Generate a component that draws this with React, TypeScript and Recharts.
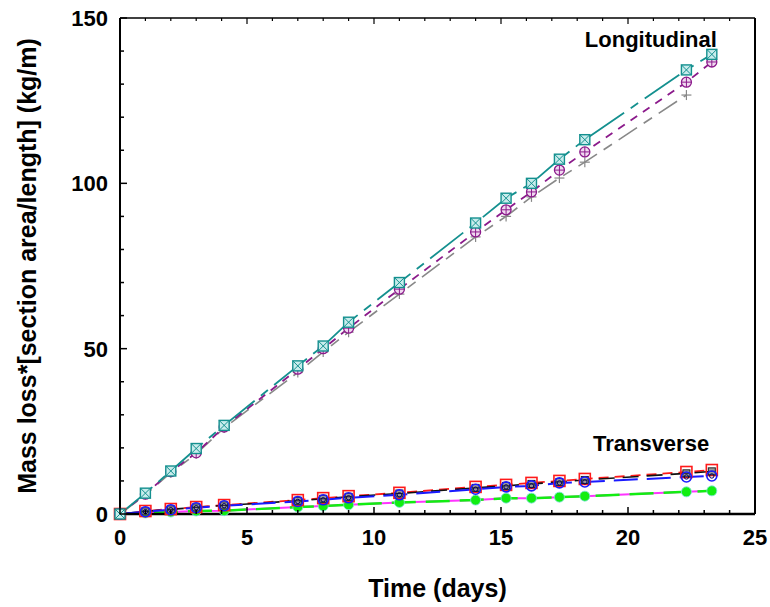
import React from 'react';
import { LineChart, Line, XAxis, YAxis, ReferenceDot, Label } from 'recharts';

// time (days) of each measurement
const days = [0, 1, 2, 3, 4.1, 7, 8, 9, 11, 14, 15.2, 16.2, 17.3, 18.3, 22.3, 23.3];

// longitudinal specimens
const longA = [0, 6.3, 13, 19.8, 26.8, 44.8, 50.8, 58, 70, 88, 95.5, 100, 107.3, 113.2, 134.3, 139];
const longB = [0, 6, 12.8, 18.5, 26.3, 43.8, 50, 56.2, 68, 85.3, 92, 97.4, 104, 109.5, 130.6, 136.7];
const longC = [0, 5.8, 12.5, 18.2, 26, 42.8, 49, 55, 66.5, 83.8, 90, 95.9, 101.6, 106.4, 126.7, null];

// transverse specimens
const transA = [0, 0.9, 1.5, 2.1, 2.7, 4.2, 4.8, 5.4, 6.4, 8.2, 8.8, 9.4, 10, 10.6, 12.7, 13.3];
const transB = [0, 0.8, 1.4, 2.0, 2.6, 4.0, 4.6, 5.2, 6.2, 7.9, 8.5, 9.1, 9.7, 10.3, 12.3, 12.9];
const transC = [0, 0.7, 1.3, 1.9, 2.5, 3.8, 4.3, 4.9, 5.8, 7.5, 8.2, 8.5, 9.4, 9.7, 11.2, 11.5];
const transD = [0, 0.3, 0.6, 0.9, 1.0, 2.1, 2.4, 2.8, 3.5, 4.2, 4.8, 4.8, 5.1, 5.4, 6.7, 7.0];

const xTicks = Array.from({ length: 26 }, (_, i) => i);
const yTicks = Array.from({ length: 16 }, (_, i) => i * 10);

const data = days.map((d, i) => ({
  day: d,
  longA: longA[i],
  longB: longB[i],
  longC: longC[i],
  transA: transA[i],
  transB: transB[i],
  transC: transC[i],
  transD: transD[i],
}));

const FONT = '"Liberation Sans", Arial, sans-serif';
const TEAL = '#14908f';
const PURPLE = '#8b1a8b';

const BottomTick = ({ x, y, payload }: any) => {
  const major = payload.value % 5 === 0;
  return (
    <g>
      <line x1={x} x2={x} y1={y} y2={y - (major ? 7 : 4)} stroke="#000" strokeWidth={1.5} />
      {major && (
        <text x={x} y={y + 31} textAnchor="middle" fontFamily={FONT} fontWeight="bold" fontSize={22} fill="#000">
          {payload.value}
        </text>
      )}
    </g>
  );
};

const TopTick = ({ x, y, payload }: any) => {
  const major = payload.value % 5 === 0;
  return <line x1={x} x2={x} y1={y} y2={y + (major ? 6 : 3)} stroke="#000" strokeWidth={1.2} />;
};

const LeftTick = ({ x, y, payload }: any) => {
  const major = payload.value % 50 === 0;
  return (
    <g>
      <line x1={x} x2={x + (major ? 7 : 4)} y1={y} y2={y} stroke="#000" strokeWidth={1.5} />
      {major && (
        <text x={x - 12} y={y} dy="0.36em" textAnchor="end" fontFamily={FONT} fontWeight="bold" fontSize={22} fill="#000">
          {payload.value}
        </text>
      )}
    </g>
  );
};

const RightTick = ({ x, y, payload }: any) => {
  const major = payload.value % 50 === 0;
  return <line x1={x} x2={x - (major ? 6 : 3)} y1={y} y2={y} stroke="#000" strokeWidth={1.2} />;
};

const SquareX = (p: any) => {
  const { cx, cy, index } = p;
  if (cy == null) return <g key={`sx-${index}`} />;
  const s = 5;
  return (
    <g key={`sx-${index}`}>
      <rect x={cx - s} y={cy - s} width={2 * s} height={2 * s} fill="#c8ecec" stroke={TEAL} strokeWidth={1.4} />
      <line x1={cx - s} y1={cy - s} x2={cx + s} y2={cy + s} stroke={TEAL} strokeWidth={1} />
      <line x1={cx - s} y1={cy + s} x2={cx + s} y2={cy - s} stroke={TEAL} strokeWidth={1} />
    </g>
  );
};

const CirclePlus = (p: any) => {
  const { cx, cy, index } = p;
  if (cy == null) return <g key={`cp-${index}`} />;
  const r = 5;
  return (
    <g key={`cp-${index}`}>
      <circle cx={cx} cy={cy} r={r} fill="#f0d8f0" stroke={PURPLE} strokeWidth={1.3} />
      <line x1={cx - r} y1={cy} x2={cx + r} y2={cy} stroke={PURPLE} strokeWidth={1} />
      <line x1={cx} y1={cy - r} x2={cx} y2={cy + r} stroke={PURPLE} strokeWidth={1} />
    </g>
  );
};

const Plus = (p: any) => {
  const { cx, cy, index } = p;
  if (cy == null) return <g key={`pl-${index}`} />;
  const r = 5;
  return (
    <g key={`pl-${index}`}>
      <line x1={cx - r} y1={cy} x2={cx + r} y2={cy} stroke="#888" strokeWidth={1.2} />
      <line x1={cx} y1={cy - r} x2={cx} y2={cy + r} stroke="#888" strokeWidth={1.2} />
    </g>
  );
};

const RedSquare = (p: any) => {
  const { cx, cy, index } = p;
  if (cy == null) return <g key={`rs-${index}`} />;
  const s = 5.5;
  return (
    <rect key={`rs-${index}`} x={cx - s} y={cy - s} width={2 * s} height={2 * s} fill="none" stroke="#ff1a1a" strokeWidth={1.6} />
  );
};

const BlackSquare = (p: any) => {
  const { cx, cy, index } = p;
  if (cy == null) return <g key={`bs-${index}`} />;
  const s = 3.5;
  return (
    <g key={`bs-${index}`}>
      <rect x={cx - s} y={cy - s} width={2 * s} height={2 * s} fill="#999" stroke="#222" strokeWidth={1} />
      <line x1={cx - s} y1={cy} x2={cx + s} y2={cy} stroke="#222" strokeWidth={1} />
    </g>
  );
};

const BlueCircle = (p: any) => {
  const { cx, cy, index } = p;
  if (cy == null) return <g key={`bc-${index}`} />;
  return (
    <g key={`bc-${index}`}>
      <circle cx={cx} cy={cy} r={5} fill="none" stroke="#1a1aff" strokeWidth={1.6} />
      <circle cx={cx} cy={cy} r={2.2} fill="none" stroke="#000060" strokeWidth={1} />
    </g>
  );
};

const GreenDot = (p: any) => {
  const { cx, cy, index } = p;
  if (cy == null) return <g key={`gd-${index}`} />;
  return <circle key={`gd-${index}`} cx={cx} cy={cy} r={5} fill="#11ee11" stroke="#7fe0e0" strokeWidth={0.8} />;
};

const textShape = (label: string) => (p: any) => (
  <text x={p.cx} y={p.cy} fontFamily={FONT} fontWeight="bold" fontSize={22} fill="#000">
    {label}
  </text>
);

export default function App() {
  return (
    <div style={{ width: 770, height: 607, overflow: 'hidden' }}>
      <style>{'body { margin: 0; }'}</style>
      <LineChart width={770} height={607} data={data} margin={{ top: 17, right: 14, bottom: 0, left: 0 }}>
        <XAxis
          dataKey="day"
          type="number"
          domain={[0, 25]}
          ticks={xTicks}
          interval={0}
          height={93}
          tickSize={0}
          tickMargin={0}
          tickLine={false}
          tick={<BottomTick />}
          axisLine={{ stroke: '#000', strokeWidth: 2.5 }}
        >
          <Label
            value="Time (days)"
            position="insideBottom"
            offset={10}
            style={{ fontFamily: FONT, fontWeight: 'bold', fontSize: 25, fill: '#000' }}
          />
        </XAxis>
        <XAxis
          xAxisId="top"
          orientation="top"
          dataKey="day"
          type="number"
          domain={[0, 25]}
          ticks={xTicks}
          interval={0}
          height={1}
          tickSize={0}
          tickMargin={0}
          tickLine={false}
          tick={<TopTick />}
          axisLine={{ stroke: '#000', strokeWidth: 1.5 }}
        />
        <YAxis
          type="number"
          domain={[0, 150]}
          ticks={yTicks}
          interval={0}
          width={120}
          tickSize={0}
          tickMargin={0}
          tickLine={false}
          tick={<LeftTick />}
          axisLine={{ stroke: '#000', strokeWidth: 2 }}
        >
          <Label
            value="Mass loss*[section area/length] (kg/m)"
            angle={-90}
            position="insideLeft"
            offset={27}
            style={{ textAnchor: 'middle', fontFamily: FONT, fontWeight: 'bold', fontSize: 25, fill: '#000' }}
          />
        </YAxis>
        <YAxis
          yAxisId="right"
          orientation="right"
          type="number"
          domain={[0, 150]}
          ticks={yTicks}
          interval={0}
          width={1}
          tickSize={0}
          tickMargin={0}
          tickLine={false}
          tick={<RightTick />}
          axisLine={{ stroke: '#000', strokeWidth: 2 }}
        />

        <Line dataKey="transD" stroke="#ff33ff" strokeWidth={2} dot={false} isAnimationActive={false} />
        <Line dataKey="transD" stroke="#11ee11" strokeWidth={2.5} strokeDasharray="24 10" dot={GreenDot} isAnimationActive={false} />
        <Line dataKey="transA" stroke="#ff1a1a" strokeWidth={1.8} strokeDasharray="10 6" dot={RedSquare} isAnimationActive={false} />
        <Line dataKey="transB" stroke="#111" strokeWidth={1.6} strokeDasharray="16 8" dot={BlackSquare} isAnimationActive={false} />
        <Line dataKey="transC" stroke="#1a1aff" strokeWidth={2} strokeDasharray="24 9" dot={BlueCircle} isAnimationActive={false} />

        <Line dataKey="longC" stroke="#888" strokeWidth={1.6} strokeDasharray="22 8 10 8" dot={Plus} connectNulls isAnimationActive={false} />
        <Line dataKey="longB" stroke={PURPLE} strokeWidth={1.8} strokeDasharray="8 7" dot={CirclePlus} isAnimationActive={false} />
        <Line dataKey="longA" stroke={TEAL} strokeWidth={1.8} strokeDasharray="42 8 9 8" dot={SquareX} isAnimationActive={false} />

        <ReferenceDot x={18.3} y={141.2} r={0} shape={textShape('Longitudinal')} />
        <ReferenceDot x={18.62} y={19.05} r={0} shape={textShape('Transverse')} />
      </LineChart>
    </div>
  );
}
